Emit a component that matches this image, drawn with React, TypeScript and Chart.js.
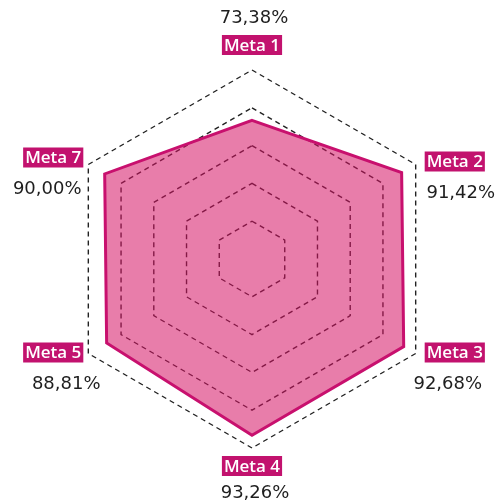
import React, { useEffect, useRef } from "react";
import { Chart, registerables } from "chart.js";

Chart.register(...registerables);

const categories: string[] = ["Meta 1", "Meta 2", "Meta 3", "Meta 4", "Meta 5", "Meta 7"];
const values: number[] = [73.38, 91.42, 92.68, 93.26, 88.81, 90.0];
const tickValues: number[] = [0, 20, 40, 60, 80, 100];

const formatPct = (v: number) => v.toFixed(2).replace(".", ",") + "%";

// layout tweaks (px) for the value texts relative to their label boxes
const VALUE_DX = [2, 6, -7, 3, 13, -6];

const labelPlugin = {
  id: "metaLabels",
  afterDraw(chart: any) {
    const scale = chart.scales.r;
    const ctx: CanvasRenderingContext2D = chart.ctx;
    const labels: string[] = chart.data.labels;
    const data: number[] = chart.data.datasets[0].data;
    ctx.save();
    for (let i = 0; i < labels.length; i++) {
      const v = scale.getPointPosition(i, scale.drawingArea);
      const angle = scale.getIndexAngle(i);
      const sx = Math.sin(angle);
      const cy = Math.cos(angle);
      ctx.font = "600 17px 'Open Sans'";
      const tw = ctx.measureText(labels[i]).width;
      const bw = tw + 4;
      const bh = 20;
      let bx: number, by: number, vy: number;
      if (Math.abs(sx) < 0.1) {
        bx = v.x - bw / 2;
        if (cy > 0) {
          by = v.y - 25 - bh / 2;
          vy = v.y - 52;
        } else {
          by = v.y + 18 - bh / 2;
          vy = v.y + 45;
        }
      } else if (sx > 0) {
        bx = v.x + 9;
        const c = cy > 0 ? v.y - 3 : v.y - 1;
        by = c - bh / 2;
        vy = c + 32;
      } else {
        bx = v.x - 5 - bw;
        const c = cy > 0 ? v.y - 7 : v.y - 1;
        by = c - bh / 2;
        vy = c + 32;
      }
      ctx.fillStyle = "#C2126E";
      ctx.fillRect(bx, by, bw, bh);
      ctx.fillStyle = "#ffffff";
      ctx.textAlign = "center";
      ctx.textBaseline = "middle";
      ctx.fillText(labels[i], bx + bw / 2, by + bh / 2 + 1);
      ctx.font = "18px 'DejaVu Sans'";
      ctx.fillStyle = "#1e1e1e";
      ctx.fillText(formatPct(data[i]), bx + bw / 2 + VALUE_DX[i], vy);
    }
    ctx.restore();
  },
};

export default function App() {
  const ref = useRef<HTMLCanvasElement | null>(null);
  useEffect(() => {
    if (!ref.current) return;
    const chart = new Chart(ref.current, {
      type: "radar",
      data: {
        labels: categories,
        datasets: [
          {
            data: values,
            backgroundColor: "rgba(213,19,100,0.55)",
            borderColor: "#C8106E",
            borderWidth: 3,
            pointRadius: 0,
            pointHoverRadius: 0,
            fill: true,
          },
        ],
      },
      options: {
        animation: false,
        responsive: true,
        maintainAspectRatio: false,
        layout: { padding: { left: 63, top: 70, right: 56, bottom: 52 } },
        plugins: { legend: { display: false }, tooltip: { enabled: false } },
        elements: { line: { tension: 0 } },
        scales: {
          r: {
            min: tickValues[0],
            max: tickValues[tickValues.length - 1],
            ticks: { display: false, stepSize: tickValues[1] - tickValues[0] },
            pointLabels: { display: false },
            angleLines: { display: false },
            grid: { color: "#222222", lineWidth: 1.4 },
            border: { dash: [5, 4] },
          },
        },
      },
      plugins: [labelPlugin],
    });
    return () => chart.destroy();
  }, []);
  return (
    <div style={{ position: "absolute", left: 0, top: 0, width: 497, height: 500 }}>
      <canvas ref={ref} />
    </div>
  );
}
